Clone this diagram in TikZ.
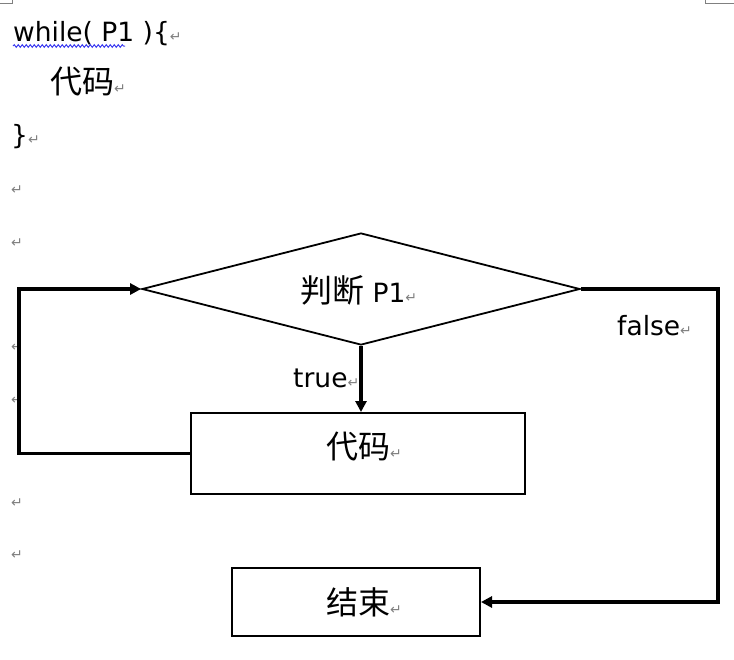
\documentclass[tikz,border=0pt]{standalone}
\usepackage{fontspec}
\newfontfamily\cjk{Noto Sans CJK SC}
\newfontfamily\lat{DejaVu Sans}
\usetikzlibrary{shapes.geometric,arrows.meta,decorations.pathmorphing}
\definecolor{mkgray}{RGB}{128,128,128}
\definecolor{spellblue}{RGB}{60,60,240}
\newcommand\parmk{{\lat\fontsize{14}{14}\selectfont\textcolor{mkgray}{↵}}}
\tikzset{
  latxt/.style={font=\lat\fontsize{26.5}{30}\selectfont, inner sep=0pt},
  cjktxt/.style={font=\cjk\fontsize{32}{36}\selectfont, inner sep=0pt},
  mkonly/.style={font=\lat\fontsize{14}{14}\selectfont, text=mkgray, inner sep=0pt},
  boxshape/.style={draw=black, line width=2pt, rectangle, inner sep=0pt},
  diashape/.style={draw=black, line width=1.8pt, diamond, inner sep=0pt},
  conn/.style={draw=black, line width=3.5pt, line join=miter, -{Triangle[length=11pt,width=11pt]}},
  cornermark/.style={draw=mkgray, line width=0.8pt},
  spell/.style={draw=spellblue, line width=1pt, decorate, decoration={snake, amplitude=1.3pt, segment length=4pt}}
}
\begin{document}
\begin{tikzpicture}[x=1pt,y=-1pt]
\path[use as bounding box] (0,0) rectangle (734,659);
% page corner marks
\draw[cornermark] (0,3) -- (12,3) -- (12,0);
\draw[cornermark] (734,3) -- (705,3) -- (705,0);
% code text
\node[latxt, anchor=base west] (l1) at (13,41) {while( P1 )\{\parmk};
\draw[spell] (13,46) -- (125,46);
\node[cjktxt, anchor=west] (l2) at (50,82) {代码\parmk};
\node[latxt, anchor=west] (l3) at (11,137) {\}\parmk};
% empty paragraph marks
\node[mkonly] (m1) at (17,190) {↵};
\node[mkonly] (m2) at (17,243) {↵};
\node[mkonly] (m3) at (17,347) {↵};
\node[mkonly] (m4) at (17,400) {↵};
\node[mkonly] (m5) at (17,503) {↵};
\node[mkonly] (m6) at (17,555) {↵};
% flowchart
\node[diashape, minimum width=438pt, minimum height=112pt] (dia) at (361,289) {};
\node[inner sep=0pt, anchor=west] (diatext) at (300,290)
  {{\cjk\fontsize{32}{36}\selectfont 判断}{\lat\fontsize{26.5}{30}\selectfont\ P1}\parmk};
\node[boxshape, minimum width=334pt, minimum height=81pt] (code) at (358,453.5) {};
\node[inner sep=0pt, anchor=west] (codetext) at (326,447)
  {{\cjk\fontsize{32}{36}\selectfont 代码}\parmk};
\node[boxshape, minimum width=248pt, minimum height=68pt] (end) at (356,602) {};
\node[inner sep=0pt, anchor=west] (endtext) at (326,602)
  {{\cjk\fontsize{32}{36}\selectfont 结束}\parmk};
\node[latxt, anchor=base west] (tlab) at (293,387) {true\parmk};
\node[latxt, anchor=base west] (flab) at (617,335) {false\parmk};
\coordinate (lc) at (19,289);
\coordinate (rc) at (718,289);
\draw[conn] (dia.south) -- (dia.south |- code.north);
\draw[conn] (code.west) -| (lc) -- (dia.west);
\draw[conn] (dia.east) -- (rc) |- (end.east);
\end{tikzpicture}
\end{document}
